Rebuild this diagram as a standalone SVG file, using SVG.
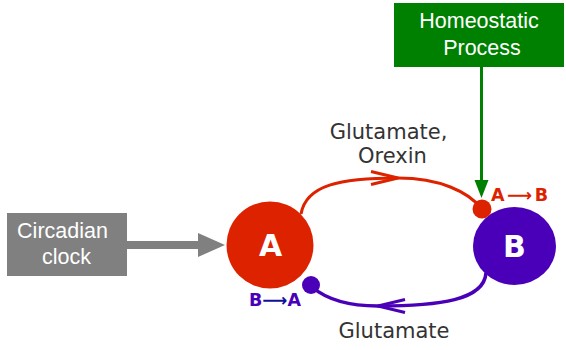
<svg xmlns="http://www.w3.org/2000/svg" width="566" height="350" viewBox="0 0 566 350">
<style>
.box{stroke:none}
.boxtxt{font-family:"Liberation Sans",Arial,sans-serif;font-size:21.5px;fill:#ffffff;text-anchor:middle}
.lbl{font-family:"DejaVu Sans",sans-serif;font-size:21px;fill:#333333;text-anchor:middle}
.big{font-family:"DejaVu Sans",sans-serif;font-weight:bold;font-size:30px;fill:#ffffff;text-anchor:middle}
.dir{font-family:"DejaVu Sans",sans-serif;font-weight:bold;font-size:17.5px}
</style>
<defs>
<marker id="chevR" markerUnits="userSpaceOnUse" markerWidth="34" markerHeight="20" refX="28" refY="10" orient="auto" viewBox="0 0 34 20">
<path d="M1 3.5 L28 10 L1 16.5" fill="none" stroke="#dd2200" stroke-width="3"/>
</marker>
<marker id="chevP" markerUnits="userSpaceOnUse" markerWidth="34" markerHeight="20" refX="28" refY="10" orient="auto" viewBox="0 0 34 20">
<path d="M1 3.5 L28 10 L1 16.5" fill="none" stroke="#4a00b8" stroke-width="3"/>
</marker>
</defs>
<g id="connectors">
<path d="M301 214 C306 185 340 178 398 178 C440 178 468 192 481 208" fill="none" stroke="#dd2200" stroke-width="3" marker-mid="url(#chevR)"/>
<path d="M486 273 C484 300 440 306 378 306 C345 306 325 298 312 287" fill="none" stroke="#4a00b8" stroke-width="3.5" marker-mid="url(#chevP)"/>
<line x1="481.5" y1="67" x2="481.5" y2="184" stroke="#008000" stroke-width="3"/>
<polygon points="474.5,180 488.5,180 481.5,198" fill="#008000"/>
<line x1="127" y1="245" x2="200" y2="245" stroke="#808080" stroke-width="8"/>
<polygon points="198,233 198,257 225,245" fill="#808080"/>
</g>
<g id="node-homeostatic">
<rect class="box" x="394" y="3" width="170" height="64" fill="#008000"/>
<text class="boxtxt" x="479" y="28">Homeostatic</text>
<text class="boxtxt" x="482" y="55">Process</text>
</g>
<g id="node-circadian">
<rect class="box" x="7" y="213" width="120" height="63" fill="#808080"/>
<text class="boxtxt" x="62.5" y="238">Circadian</text>
<text class="boxtxt" x="66.5" y="264">clock</text>
</g>
<g id="node-A">
<circle cx="270" cy="245" r="43.5" fill="#dd2200"/>
<text class="big" x="270.5" y="255.5">A</text>
</g>
<g id="node-B">
<ellipse cx="514.5" cy="246" rx="41.5" ry="39" fill="#4a00b8"/>
<text class="big" x="514.5" y="257">B</text>
</g>
<g id="synapse-AB">
<circle cx="482" cy="209" r="9.5" fill="#dd2200"/>
<text class="dir" x="491" y="201" fill="#dd2200" letter-spacing="2.5">A⟶B</text>
</g>
<g id="synapse-BA">
<circle cx="311" cy="285" r="9" fill="#4a00b8"/>
<text class="dir" x="249" y="305.5" fill="#4a00b8">B<tspan fill="#10109a">⟶</tspan>A</text>
</g>
<g id="labels">
<text class="lbl" x="388.5" y="139">Glutamate,</text>
<text class="lbl" x="392.5" y="163">Orexin</text>
<text class="lbl" x="394" y="338">Glutamate</text>
</g>
</svg>
